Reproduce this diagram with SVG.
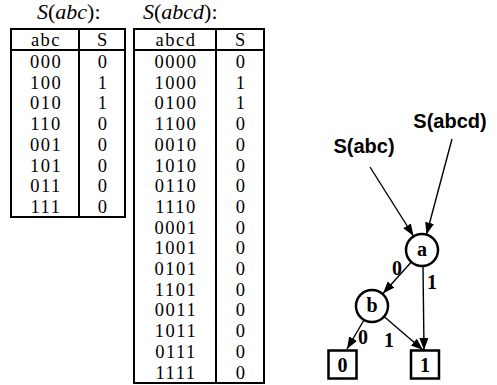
<svg xmlns="http://www.w3.org/2000/svg" width="497" height="385" viewBox="0 0 497 385">
<style>
.tb{fill:none;stroke:#000;stroke-width:2}
.t{font-family:"Liberation Serif","DejaVu Serif",serif;font-size:18.5px;letter-spacing:1.5px;text-anchor:middle;fill:#000}
.ttl{font-family:"Liberation Serif","DejaVu Serif",serif;font-size:22px;fill:#000}
.it{font-style:italic}
.lbl{font-family:"Liberation Sans",Arial,sans-serif;font-weight:bold;font-size:20px;text-anchor:middle;fill:#000}
.nl{font-family:"Liberation Serif","DejaVu Serif",serif;font-weight:bold;font-size:20px;text-anchor:middle;fill:#000}
.node{fill:#fff;stroke:#000;stroke-width:2.5}
.edge{fill:none;stroke:#000;stroke-width:1.4}
</style>
<defs>
<marker id="arr" markerUnits="userSpaceOnUse" markerWidth="13" markerHeight="10" refX="12" refY="4.5" orient="auto">
<path d="M0,0 L12,4.5 L0,9 z" fill="#000"/>
</marker>
</defs>
<rect width="497" height="385" fill="#fff"/>

<g id="table-abc">
<text class="ttl" x="37" y="19"><tspan class="it">S</tspan>(<tspan class="it">abc</tspan>):</text>
<rect class="tb" x="11" y="29" width="114" height="188"/>
<line class="tb" x1="11" y1="50" x2="125" y2="50"/>
<line class="tb" x1="79" y1="29" x2="79" y2="217"/>
<text class="t" x="46" y="46">abc</text><text class="t" x="103" y="46">S</text>
<text class="t" x="46" y="68">000</text><text class="t" x="103" y="68">0</text>
<text class="t" x="46" y="88.7">100</text><text class="t" x="103" y="88.7">1</text>
<text class="t" x="46" y="109.4">010</text><text class="t" x="103" y="109.4">1</text>
<text class="t" x="46" y="130.1">110</text><text class="t" x="103" y="130.1">0</text>
<text class="t" x="46" y="150.8">001</text><text class="t" x="103" y="150.8">0</text>
<text class="t" x="46" y="171.5">101</text><text class="t" x="103" y="171.5">0</text>
<text class="t" x="46" y="192.2">011</text><text class="t" x="103" y="192.2">0</text>
<text class="t" x="46" y="212.9">111</text><text class="t" x="103" y="212.9">0</text>
</g>

<g id="table-abcd">
<text class="ttl" x="143" y="19"><tspan class="it">S</tspan>(<tspan class="it">abcd</tspan>):</text>
<rect class="tb" x="134" y="29" width="130" height="354"/>
<line class="tb" x1="134" y1="50" x2="264" y2="50"/>
<line class="tb" x1="216" y1="29" x2="216" y2="383"/>
<text class="t" x="176" y="46">abcd</text><text class="t" x="241" y="46">S</text>
<text class="t" x="176" y="68">0000</text><text class="t" x="241" y="68">0</text>
<text class="t" x="176" y="88.7">1000</text><text class="t" x="241" y="88.7">1</text>
<text class="t" x="176" y="109.4">0100</text><text class="t" x="241" y="109.4">1</text>
<text class="t" x="176" y="130.1">1100</text><text class="t" x="241" y="130.1">0</text>
<text class="t" x="176" y="150.8">0010</text><text class="t" x="241" y="150.8">0</text>
<text class="t" x="176" y="171.5">1010</text><text class="t" x="241" y="171.5">0</text>
<text class="t" x="176" y="192.2">0110</text><text class="t" x="241" y="192.2">0</text>
<text class="t" x="176" y="212.9">1110</text><text class="t" x="241" y="212.9">0</text>
<text class="t" x="176" y="233.6">0001</text><text class="t" x="241" y="233.6">0</text>
<text class="t" x="176" y="254.3">1001</text><text class="t" x="241" y="254.3">0</text>
<text class="t" x="176" y="275">0101</text><text class="t" x="241" y="275">0</text>
<text class="t" x="176" y="295.7">1101</text><text class="t" x="241" y="295.7">0</text>
<text class="t" x="176" y="316.4">0011</text><text class="t" x="241" y="316.4">0</text>
<text class="t" x="176" y="337.1">1011</text><text class="t" x="241" y="337.1">0</text>
<text class="t" x="176" y="357.8">0111</text><text class="t" x="241" y="357.8">0</text>
<text class="t" x="176" y="378.5">1111</text><text class="t" x="241" y="378.5">0</text>
</g>

<g id="connectors">
<line class="edge" x1="370" y1="167" x2="413.5" y2="236" marker-end="url(#arr)"/>
<line class="edge" x1="452" y1="139" x2="426.5" y2="234.5" marker-end="url(#arr)"/>
<line class="edge" x1="411.3" y1="262" x2="383" y2="293.5" marker-end="url(#arr)"/>
<text class="nl" x="397" y="275">0</text>
<line class="edge" x1="423" y1="266" x2="424" y2="350" marker-end="url(#arr)"/>
<text class="nl" x="432" y="289">1</text>
<line class="edge" x1="364" y1="320" x2="347" y2="349" marker-end="url(#arr)"/>
<text class="nl" x="363" y="344">0</text>
<line class="edge" x1="384" y1="316.5" x2="423" y2="350" marker-end="url(#arr)"/>
<text class="nl" x="389" y="347">1</text>
</g>

<g id="label-S-abc"><text class="lbl" x="364" y="153">S(abc)</text></g>
<g id="label-S-abcd"><text class="lbl" x="450" y="128">S(abcd)</text></g>

<g id="node-a"><circle class="node" cx="422" cy="250" r="16"/><text class="nl" x="422" y="256">a</text></g>
<g id="node-b"><circle class="node" cx="372" cy="306" r="16"/><text class="nl" x="372" y="312">b</text></g>
<g id="node-0"><rect class="node" x="328.5" y="350.5" width="28" height="28"/><text class="nl" x="342.5" y="371.5">0</text></g>
<g id="node-1"><rect class="node" x="411" y="350.5" width="28" height="28"/><text class="nl" x="425" y="371.5">1</text></g>
</svg>
